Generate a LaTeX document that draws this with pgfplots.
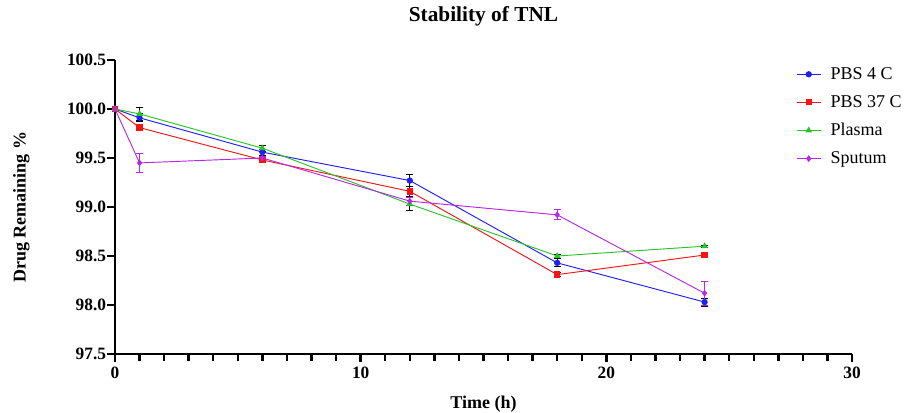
\documentclass[border=0pt]{standalone}
\usepackage{fontspec}
\setmainfont{Liberation Serif}
\usepackage{pgfplots}
\pgfplotsset{compat=1.18}

\definecolor{cblue}{RGB}{30,30,245}
\definecolor{cred}{RGB}{245,20,20}
\definecolor{cgreen}{RGB}{40,195,40}
\definecolor{cpurple}{RGB}{180,40,230}

\begin{document}
\begin{tikzpicture}
  \begin{axis}[scale only axis, width=552.75pt, height=220.5pt,
    axis lines=left, axis line style={line width=2pt, -},
    xmin=0, xmax=30, ymin=97.5, ymax=100.5,
    xtick={0,10,20,30}, minor x tick num=9,
    ytick={97.5,98,98.5,99,99.5,100,100.5},
    tick style={black, line width=1.8pt}, tick align=outside,
    major tick length=6pt, minor tick length=5pt,
    ticklabel style={font=\fontsize{13}{15}\selectfont\bfseries},
    yticklabel style={inner xsep=0.5pt, /pgf/number format/.cd, fixed, fixed zerofill, precision=1},
    /pgf/number format/assume math mode=true,
    xlabel={\textbf{Time (h)}}, ylabel={\textbf{Drug Remaining \%}},
    label style={font=\fontsize{13.5}{16}\selectfont},
    xlabel style={at={(axis description cs:0.5,-0.17)}, anchor=center},
    ylabel style={at={(axis description cs:-0.127,0.5)}, anchor=center},
    title={\textbf{Stability of TNL}},
    title style={font=\fontsize{16}{19}\selectfont, at={(axis description cs:0.5,1.12)}, anchor=center},
    legend style={at={(axis description cs:0.924,0.985)}, anchor=north west, draw=none, fill=none,
      font=\fontsize{13.5}{16}\selectfont, row sep=6.5pt, legend cell align=left, inner sep=0pt},
    legend image code/.code={\draw[mark repeat=2, mark phase=2, #1] plot coordinates {(0pt,0pt) (9pt,0pt) (18pt,0pt)}; \path (23pt,0pt);},
    clip=false,
    every axis plot/.append style={line width=0.7pt}]

    \addplot[cblue, mark=*, mark size=2pt,
      error bars/.cd, y dir=both, y explicit, error bar style={black, line width=0.7pt}, error mark options={black, rotate=90, mark size=2.5pt, line width=0.7pt}]
      coordinates {
      (0,100.00) +- (0,0.01)
      (1,99.91) +- (0,0.04)
      (6,99.56) +- (0,0.03)
      (12,99.27) +- (0,0.06)
      (18,98.43) +- (0,0.04)
      (24,98.03) +- (0,0.04) };
    \addlegendentry{PBS 4 C}

    \addplot[cred, mark=square*, mark size=2pt,
      error bars/.cd, y dir=both, y explicit, error bar style={black, line width=0.7pt}, error mark options={black, rotate=90, mark size=2.5pt, line width=0.7pt}]
      coordinates {
      (0,100.00) +- (0,0.01)
      (1,99.81) +- (0,0.03)
      (6,99.48) +- (0,0.02)
      (12,99.16) +- (0,0.05)
      (18,98.31) +- (0,0.02)
      (24,98.51) +- (0,0.02) };
    \addlegendentry{PBS 37 C}

    \addplot[cgreen, mark=triangle*, mark size=2.2pt,
      error bars/.cd, y dir=both, y explicit, error bar style={black, line width=0.7pt}, error mark options={black, rotate=90, mark size=2.5pt, line width=0.7pt}]
      coordinates {
      (0,100.00) +- (0,0.01)
      (1,99.95) +- (0,0.07)
      (6,99.60) +- (0,0.03)
      (12,99.03) +- (0,0.07)
      (18,98.50) +- (0,0.02)
      (24,98.60) +- (0,0.01) };
    \addlegendentry{Plasma}

    \addplot[cpurple, mark=diamond*, mark size=2pt,
      error bars/.cd, y dir=both, y explicit, error bar style={cpurple, line width=0.7pt}, error mark options={cpurple, rotate=90, mark size=2.5pt, line width=0.7pt}]
      coordinates {
      (0,100.00) +- (0,0.01)
      (1,99.45) +- (0,0.10)
      (6,99.50) +- (0,0.02)
      (12,99.06) +- (0,0.04)
      (18,98.92) +- (0,0.05)
      (24,98.12) +- (0,0.12) };
    \addlegendentry{Sputum}
  \end{axis}
  \pgfresetboundingbox
  \path[use as bounding box] (-86.25pt,-43.5pt) rectangle (594pt,265.5pt);
\end{tikzpicture}
\end{document}
